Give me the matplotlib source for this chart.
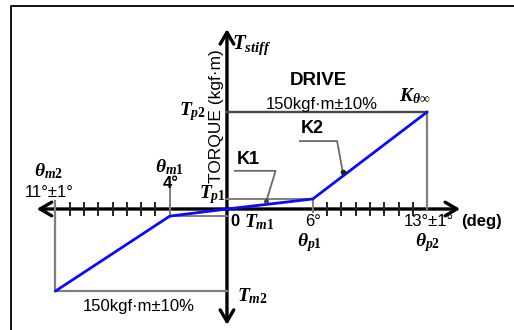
import matplotlib
matplotlib.use('Agg')
import matplotlib.pyplot as plt
from matplotlib.patches import FancyArrowPatch

plt.rcParams['font.family'] = ['Liberation Sans', 'DejaVu Sans']
plt.rcParams['mathtext.fontset'] = 'custom'
plt.rcParams['mathtext.it'] = 'Liberation Serif:bold:italic'
plt.rcParams['mathtext.rm'] = 'Liberation Serif:bold'
plt.rcParams['mathtext.bf'] = 'Liberation Serif:bold'

# characteristic points (drawn scale: 1 unit = 1 tick, torque in kgf*m)
theta_pts = [-12, -4, 0, 6, 14]
torque_pts = [-127, -11, 0, 15.5, 150]
ticks_neg = [-5, -6, -7, -8, -9, -10, -11]
ticks_pos = [7, 8, 9, 10, 11, 12, 13]

x_range = (-13.3, 16.3)
y_range = (-179, 278)

theta_m2, theta_m1, _, theta_p1, theta_p2 = theta_pts
T_m2, T_m1, _, T_p1, T_p2 = torque_pts

fig = plt.figure(figsize=(5.14, 3.30), dpi=100)
ax = fig.add_axes([0, 0, 1, 1])
ax.set_xlim(-15.87, 20.07)
ax.set_ylim(-187.0, 323.0)
ax.axis('off')

# frame (only left and top edges show)
ax.plot([0.0214, 0.0214, 1.0], [0.0, 0.982, 0.982], color='black', lw=1.3,
        transform=ax.transAxes, clip_on=False)

gray = '#7f7f7f'
# guide rectangle lines
ax.plot([0, theta_p2, theta_p2], [T_p2, T_p2, 0], color=gray, lw=1.6)
ax.plot([0, theta_p2], [T_p2, T_p2], color='#4a4a4a', lw=1.6)
ax.plot([0, theta_p1, theta_p1], [T_p1, T_p1, -5], color=gray, lw=1.4)
ax.plot([theta_m2, theta_m2, 0], [12, T_m2, T_m2], color=gray, lw=1.6)
ax.plot([theta_m1, theta_m1, 0], [42, T_m1, T_m1], color=gray, lw=1.4)

# axes with arrows
ax.add_patch(FancyArrowPatch((x_range[0], 0), (x_range[1], 0), arrowstyle='<->,head_length=0.6,head_width=0.35',
                             mutation_scale=14, color='black', lw=2.4, shrinkA=0, shrinkB=0))
ax.add_patch(FancyArrowPatch((0, y_range[0]), (0, y_range[1]), arrowstyle='<->,head_length=0.6,head_width=0.35',
                             mutation_scale=14, color='black', lw=2.4, shrinkA=0, shrinkB=0))
for t in ticks_neg + ticks_pos:
    ax.plot([t, t], [9, -9], color='#222222', lw=1.4)

# stiffness curve
ax.plot(theta_pts, torque_pts, color='#0a0aff', lw=2.0, solid_capstyle='round')

# leaders for K1 and K2
ax.plot([0.55, 3.4, 2.75], [59, 59, 12], color='#6a6a6a', lw=1.3)
ax.plot(2.75, 12, 'o', color='#444444', ms=2.5)
ax.plot([5.1, 7.7, 8.1], [105, 105, 57], color='#6a6a6a', lw=1.3)
ax.plot(8.1, 57, 'o', color='#222222', ms=3)

math = dict(fontsize=14, color='black')
lab = dict(fontsize=12, fontweight='medium')
ax.text(0.35, 253, r'$T_{stiff}$', ha='left', va='center', fontsize=15)
ax.text(-0.72, 143, 'TORQUE (kgf·m)', rotation=90, ha='center', va='center', fontsize=12.5)
ax.text(6.36, 199, 'DRIVE', ha='center', va='center', fontsize=13.5, fontweight='bold')
ax.text(6.64, 162, '150kgf·m±10%', ha='center', va='center', **lab)
ax.text(13.1, 175, r'$K_{\theta\infty}$', ha='center', va='center', **math)
ax.text(5.94, 124, 'K2', ha='center', va='center', fontsize=13, fontweight='bold')
ax.text(1.47, 77, 'K1', ha='center', va='center', fontsize=13, fontweight='bold')
ax.text(-1.45, 150, r'$T_{p2}$', ha='right', va='center', **math)
ax.text(-0.07, 22, r'$T_{p1}$', ha='right', va='center', **math)
ax.text(-3.99, 64, r'$\theta_{m1}$', ha='center', va='center', **math)
ax.text(-3.92, 39, '4°', ha='center', va='center', fontsize=12, fontweight='bold')
ax.text(-12.45, 58, r'$\theta_{m2}$', ha='center', va='center', **math)
ax.text(-12.45, 26, '11°±1°', ha='center', va='center', **lab)
ax.text(0.56, -20, '0', ha='center', va='center', fontsize=12, fontweight='bold')
ax.text(1.2, -20, r'$T_{m1}$', ha='left', va='center', **math)
ax.text(6.0, -19, '6°', ha='center', va='center', **lab)
ax.text(5.8, -52, r'$\theta_{p1}$', ha='center', va='center', **math)
ax.text(14.1, -20, '13°±1°', ha='center', va='center', **lab)
ax.text(16.4, -20, '(deg)', ha='left', va='center', fontsize=12, fontweight='bold')
ax.text(14.0, -52, r'$\theta_{p2}$', ha='center', va='center', **math)
ax.text(-6.15, -150, '150kgf·m±10%', ha='center', va='center', **lab)
ax.text(0.7, -134, r'$T_{m2}$', ha='left', va='center', **math)

fig.savefig('out.png', dpi=100)
